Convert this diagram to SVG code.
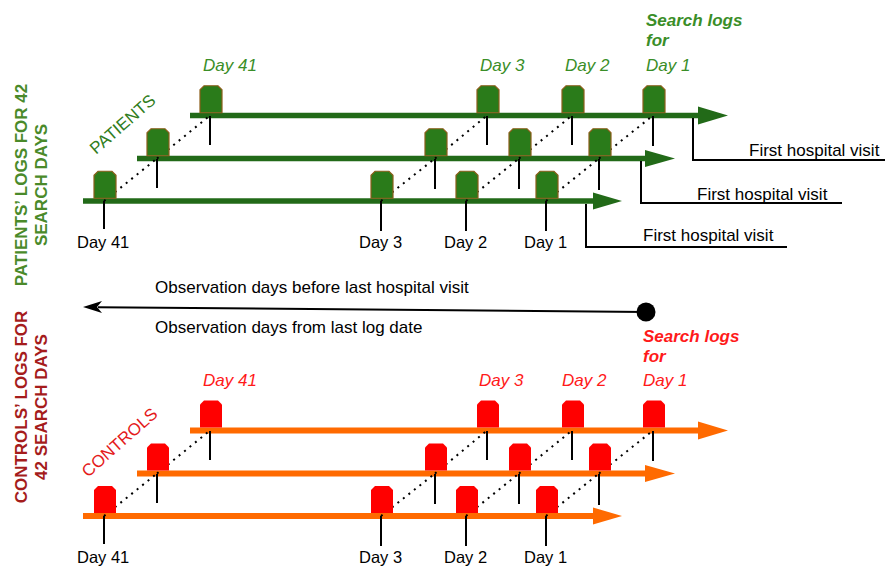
<svg xmlns="http://www.w3.org/2000/svg" xmlns:xlink="http://www.w3.org/1999/xlink" width="885" height="567" viewBox="0 0 885 567">
<defs>
  <path id="blk" d="M0,27 V4 L4,0 H18 L22,4 V27 Z"/>
</defs>
<style>
  text{font-family:"Liberation Sans",Arial,sans-serif}
  .gbar{stroke:#226a18;stroke-width:5.5;fill:none}
  .ghead{fill:#226a18}
  .obar{stroke:#ff6a00;stroke-width:6;fill:none}
  .ohead{fill:#ff6a00}
  .gblk{fill:#2a7b1a;stroke:#8b5e1a;stroke-width:1.2}
  .rblk{fill:#ff0000}
  .dot{stroke:#000;stroke-width:2;stroke-dasharray:2 5;fill:none}
  .tick{stroke:#000;stroke-width:2;fill:none}
  .visit{stroke:#000;stroke-width:2;fill:none}
  .lbl{font-size:16.5px;fill:#000}
  .txt{font-size:17px;fill:#000}
  .gday{font-size:17px;font-style:italic;fill:#3a8e28}
  .rday{font-size:17px;font-style:italic;fill:#ff1a1a}
  .gsl{font-size:17px;font-style:italic;font-weight:bold;fill:#3a8e28}
  .rsl{font-size:17px;font-style:italic;font-weight:bold;fill:#ff1a1a}
  .gvert{font-size:17px;font-weight:bold;fill:#4a8a2a}
  .rvert{font-size:17px;font-weight:bold;fill:#a51c1c}
</style>

<!-- side labels -->
<g id="patients-side-label">
  <text class="gvert" text-anchor="middle" transform="translate(27,185) rotate(-90)">PATIENTS’ LOGS FOR 42</text>
  <text class="gvert" text-anchor="middle" transform="translate(47,185) rotate(-90)">SEARCH DAYS</text>
</g>
<g id="controls-side-label">
  <text class="rvert" text-anchor="middle" transform="translate(27,407) rotate(-90)">CONTROLS’ LOGS FOR</text>
  <text class="rvert" text-anchor="middle" transform="translate(47,407) rotate(-90)">42 SEARCH DAYS</text>
</g>

<!-- PATIENTS bars -->
<g id="patients-row1">
  <line class="gbar" x1="190" y1="115.5" x2="700" y2="115.5"/>
  <polygon class="ghead" points="698,106.5 728,115.5 698,124.5"/>
</g>
<g id="patients-row2">
  <line class="gbar" x1="137" y1="158.5" x2="647" y2="158.5"/>
  <polygon class="ghead" points="645,150 675,158.5 645,167"/>
</g>
<g id="patients-row3">
  <line class="gbar" x1="83" y1="201" x2="595" y2="201"/>
  <polygon class="ghead" points="593,192.5 622,201 593,209.5"/>
</g>

<!-- CONTROLS bars -->
<g id="controls-row1">
  <line class="obar" x1="190" y1="430.5" x2="700" y2="430.5"/>
  <polygon class="ohead" points="698,421.5 728,430.5 698,439.5"/>
</g>
<g id="controls-row2">
  <line class="obar" x1="137" y1="473.5" x2="647" y2="473.5"/>
  <polygon class="ohead" points="645,465 675,473.5 645,482"/>
</g>
<g id="controls-row3">
  <line class="obar" x1="83" y1="516" x2="595" y2="516"/>
  <polygon class="ohead" points="593,507.5 622,516 593,524.5"/>
</g>

<!-- connectors -->
<g id="connectors">
  <!-- patients dotted -->
  <line class="dot" x1="104" y1="201" x2="157" y2="158.5"/>
  <line class="dot" x1="381" y1="201" x2="435" y2="158.5"/>
  <line class="dot" x1="466" y1="201" x2="519" y2="158.5"/>
  <line class="dot" x1="546" y1="201" x2="599" y2="158.5"/>
  <line class="dot" x1="157" y1="158.5" x2="210" y2="115.5"/>
  <line class="dot" x1="435" y1="158.5" x2="487" y2="115.5"/>
  <line class="dot" x1="519" y1="158.5" x2="572" y2="115.5"/>
  <line class="dot" x1="599" y1="158.5" x2="653" y2="115.5"/>
  <!-- controls dotted -->
  <line class="dot" x1="104" y1="516" x2="157" y2="473.5"/>
  <line class="dot" x1="381" y1="516" x2="435" y2="473.5"/>
  <line class="dot" x1="466" y1="516" x2="519" y2="473.5"/>
  <line class="dot" x1="546" y1="516" x2="599" y2="473.5"/>
  <line class="dot" x1="157" y1="473.5" x2="210" y2="430.5"/>
  <line class="dot" x1="435" y1="473.5" x2="487" y2="430.5"/>
  <line class="dot" x1="519" y1="473.5" x2="572" y2="430.5"/>
  <line class="dot" x1="599" y1="473.5" x2="653" y2="430.5"/>
  <!-- patients ticks -->
  <path class="tick" d="M210,116 V145 M487,116 V145 M572,116 V145 M653,116 V146"/>
  <path class="tick" d="M157,159 V188 M435,159 V189 M519,159 V189 M599,159 V190"/>
  <path class="tick" d="M104,201 V229 M381,201 V231 M466,201 V231 M546,201 V231"/>
  <!-- controls ticks -->
  <path class="tick" d="M210,431 V460 M487,431 V460 M572,431 V460 M653,431 V461"/>
  <path class="tick" d="M157,474 V503 M435,474 V504 M519,474 V504 M599,474 V505"/>
  <path class="tick" d="M104,516 V544 M381,516 V546 M466,516 V546 M546,516 V546"/>
  <!-- first hospital visit -->
  <path class="visit" d="M693,118 V160 H885"/>
  <path class="visit" d="M641,161 V203 H842"/>
  <path class="visit" d="M586,204 V247 H787"/>
  <!-- observation axis -->
  <line x1="98" y1="307.2" x2="646" y2="312" stroke="#000" stroke-width="2"/>
  <polygon points="83,307 102,301 97,307 102,313" fill="#000"/>
  <circle cx="646" cy="312" r="9.5" fill="#000"/>
</g>

<!-- patient blocks -->
<g id="patients-blocks">
  <use xlink:href="#blk" class="gblk" x="200" y="85.75"/>
  <use xlink:href="#blk" class="gblk" x="477" y="85.75"/>
  <use xlink:href="#blk" class="gblk" x="562" y="85.75"/>
  <use xlink:href="#blk" class="gblk" x="643" y="85.75"/>
  <use xlink:href="#blk" class="gblk" x="147" y="128.75"/>
  <use xlink:href="#blk" class="gblk" x="425" y="128.75"/>
  <use xlink:href="#blk" class="gblk" x="509" y="128.75"/>
  <use xlink:href="#blk" class="gblk" x="589" y="128.75"/>
  <use xlink:href="#blk" class="gblk" x="94" y="171.25"/>
  <use xlink:href="#blk" class="gblk" x="371" y="171.25"/>
  <use xlink:href="#blk" class="gblk" x="456" y="171.25"/>
  <use xlink:href="#blk" class="gblk" x="536" y="171.25"/>
</g>

<!-- control blocks -->
<g id="controls-blocks">
  <use xlink:href="#blk" class="rblk" x="200" y="400.5"/>
  <use xlink:href="#blk" class="rblk" x="477" y="400.5"/>
  <use xlink:href="#blk" class="rblk" x="562" y="400.5"/>
  <use xlink:href="#blk" class="rblk" x="643" y="400.5"/>
  <use xlink:href="#blk" class="rblk" x="147" y="443.5"/>
  <use xlink:href="#blk" class="rblk" x="425" y="443.5"/>
  <use xlink:href="#blk" class="rblk" x="509" y="443.5"/>
  <use xlink:href="#blk" class="rblk" x="589" y="443.5"/>
  <use xlink:href="#blk" class="rblk" x="94" y="486"/>
  <use xlink:href="#blk" class="rblk" x="371" y="486"/>
  <use xlink:href="#blk" class="rblk" x="456" y="486"/>
  <use xlink:href="#blk" class="rblk" x="536" y="486"/>
</g>

<!-- patients texts -->
<g id="patients-labels">
  <text class="gsl" x="646" y="26">Search logs</text>
  <text class="gsl" x="646" y="46">for</text>
  <text class="gday" x="203" y="71">Day 41</text>
  <text class="gday" x="480" y="71">Day 3</text>
  <text class="gday" x="565" y="71">Day 2</text>
  <text class="gday" x="646" y="71">Day 1</text>
  <text font-size="17" fill="#2f7d20" transform="translate(96,155) rotate(-41)">PATIENTS</text>
  <text class="lbl" x="77" y="248">Day 41</text>
  <text class="lbl" x="359" y="248">Day 3</text>
  <text class="lbl" x="444" y="248">Day 2</text>
  <text class="lbl" x="524" y="248">Day 1</text>
  <text class="txt" x="749" y="156">First hospital visit</text>
  <text class="txt" x="697" y="200">First hospital visit</text>
  <text class="txt" x="643" y="241">First hospital visit</text>
</g>

<g id="axis-labels">
  <text class="txt" x="155" y="293">Observation days before last hospital visit</text>
  <text class="txt" x="155" y="333">Observation days from last log date</text>
</g>

<!-- controls texts -->
<g id="controls-labels">
  <text class="rsl" x="643" y="342">Search logs</text>
  <text class="rsl" x="643" y="362">for</text>
  <text class="rday" x="203" y="386">Day 41</text>
  <text class="rday" x="479" y="386">Day 3</text>
  <text class="rday" x="562" y="386">Day 2</text>
  <text class="rday" x="643" y="386">Day 1</text>
  <text font-size="17" fill="#e41a1a" transform="translate(88,478) rotate(-41.5)">CONTROLS</text>
  <text class="lbl" x="77" y="563">Day 41</text>
  <text class="lbl" x="359" y="563">Day 3</text>
  <text class="lbl" x="444" y="563">Day 2</text>
  <text class="lbl" x="524" y="563">Day 1</text>
</g>
</svg>
